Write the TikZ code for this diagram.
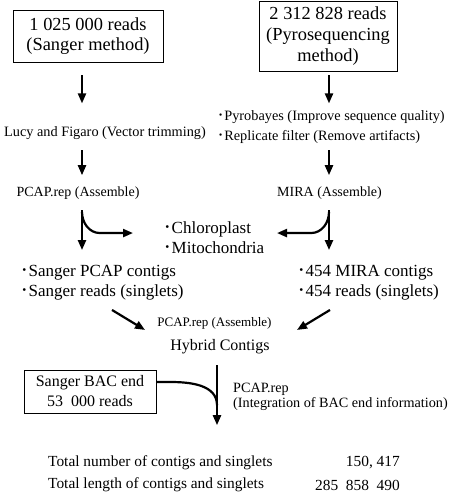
\documentclass[tikz,border=0pt]{standalone}
\usepackage{fontspec}
\setmainfont{Liberation Serif}
\newfontfamily\cjk{Noto Sans CJK JP}
\usetikzlibrary{arrows.meta}
\newcommand{\bul}{{\cjk ･}}
\begin{document}
\begin{tikzpicture}[x=1pt,y=-1pt,
  arr/.style={line width=2.2pt,-{Triangle[length=10pt,width=8pt]}},
  plainline/.style={line width=2.2pt},
  box/.style={draw,line width=0.8pt,inner sep=0pt,align=center},
  txt/.style={inner sep=0pt,align=left}]
\useasboundingbox (0,0) rectangle (450,496);
\coordinate (L) at (82,0);
\coordinate (R) at (329,0);
\coordinate (M) at (217,0);
% boxes
\node[box,minimum width=150pt,minimum height=52pt,font=\fontsize{18.4}{20}\selectfont] (b1) at (88,36) {1 025 000 reads\\(Sanger method)};
\node[box,minimum width=138pt,minimum height=70pt,font=\fontsize{18.4}{21}\selectfont] (b2) at (328,36) {2 312 828 reads\\(Pyrosequencing\\method)};
% step texts
\node[txt,font=\fontsize{14.3}{20}\selectfont] (lucy) at (105,133) {Lucy and Figaro (Vector trimming)};
\node[txt,anchor=west,font=\fontsize{14.3}{20}\selectfont] (pyro) at (217,127) {\bul Pyrobayes (Improve sequence quality)\\\bul Replicate filter (Remove artifacts)};
\node[txt,font=\fontsize{14}{16}\selectfont] (pcap1) at (78,193) {PCAP.rep (Assemble)};
\node[txt,font=\fontsize{14}{16}\selectfont] (mira) at (329.5,193) {MIRA (Assemble)};
\node[txt,anchor=west,font=\fontsize{17}{20}\selectfont] (chl) at (163,238) {\bul Chloroplast\\\bul Mitochondria};
\node[txt,anchor=west,font=\fontsize{17}{20}\selectfont] (sang) at (20,283) {\bul Sanger PCAP contigs\\\bul Sanger reads (singlets)};
\node[txt,anchor=west,font=\fontsize{17}{20}\selectfont] (m454) at (297,283) {\bul 454 MIRA contigs\\\bul 454 reads (singlets)};
\node[txt,font=\fontsize{13}{15}\selectfont] (pcap3) at (214.5,323) {PCAP.rep (Assemble)};
\node[txt,font=\fontsize{16}{18}\selectfont] (hyb) at (220,347) {Hybrid Contigs};
\node[box,minimum width=132pt,minimum height=43pt,font=\fontsize{16}{20}\selectfont] (b3) at (90,391.5) {Sanger BAC end\\53\ \ 000 reads};
\node[txt,anchor=west,font=\fontsize{14.2}{14.5}\selectfont] (pint) at (233,397) {PCAP.rep\\(Integration of BAC end information)};
\node[txt,anchor=west,font=\fontsize{15.4}{18}\selectfont] (tot1) at (48,463) {Total number of contigs and singlets};
\node[txt,anchor=west,font=\fontsize{15.4}{18}\selectfont] (tot2) at (48,485) {Total length of contigs and singlets};
\node[txt,anchor=east,font=\fontsize{15.4}{18}\selectfont] (val1) at (400,463) {150, 417};
\node[txt,anchor=east,font=\fontsize{15.4}{18}\selectfont] (val2) at (400,485) {285\ \ 858\ \ 490};
% arrows
\draw[arr] ([yshift=-13pt]b1.south -| L) -- ++(0,28);
\draw[arr] ([yshift=-4pt]b2.south -| R) -- ++(0,28);
\draw[arr] ([yshift=-10.5pt]lucy.south -| L) -- ++(0,25);
\draw[arr] ([yshift=-6.5pt]pyro.south -| R) -- ++(0,25);
\draw[arr] ([yshift=-10.5pt]pcap1.south -| L) -- ++(0,40);
\draw[arr] ([yshift=-12.5pt]pcap1.south -| L) to[out=-90,in=180] ++(18,21) -- ++(33,0);
\draw[arr] ([yshift=-10.5pt]mira.south -| R) -- ++(0,40);
\draw[arr] ([yshift=-12.5pt]mira.south -| R) to[out=-90,in=0] ++(-18,21) -- ++(-34,0);
\draw[arr] ([xshift=92pt,yshift=-9.3pt]sang.south west) -- ++(33,20);
\draw[arr] ([xshift=33pt,yshift=-9.3pt]m454.south west) -- ++(-33,20);
\draw[arr] ([yshift=-10.7pt]hyb.south -| M) -- ++(0,60);
\draw[plainline] ([yshift=9.5pt]b3.east) -- ++(14,0) to[out=0,in=90] ([yshift=-50.7pt]hyb.south -| M);
\end{tikzpicture}
\end{document}
